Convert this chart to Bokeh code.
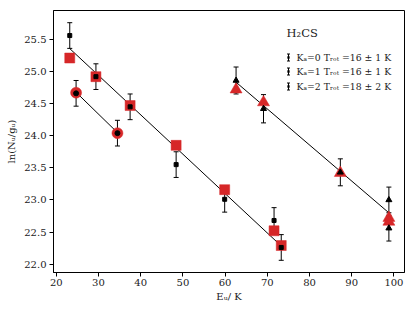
import numpy as np
from bokeh.plotting import figure
from bokeh.models import (ColumnDataSource, Whisker, TeeHead, Label, BoxAnnotation,
                          FixedTicker, PrintfTickFormatter, Range1d)
from bokeh.embed import file_html
from bokeh.resources import INLINE

# ---- data ----
k0_E = [23.2, 29.4, 37.5, 48.4, 59.9, 71.6, 73.3]
k0_obs = [25.56, 24.92, 24.45, 23.55, 23.01, 22.68, 22.26]
k0_err = [0.2, 0.2, 0.2, 0.2, 0.2, 0.2, 0.2]
k0_mod = [25.21, 24.92, 24.47, 23.85, 23.16, 22.52, 22.29]

k1_E = [24.7, 34.5]
k1_obs = [24.66, 24.04]
k1_err = [0.2, 0.2]
k1_mod = [24.67, 24.04]

k2_E = [62.6, 69.1, 87.3, 98.8, 98.8]
k2_obs = [24.86, 24.42, 23.43, 23.00, 22.56]
k2_err = [0.21, 0.22, 0.21, 0.2, 0.2]
k2_mod = [24.72, 24.52, 23.42, 22.72, 22.66]

# rotational-diagram fits: ln(N/g) = a - E/T
fit_a = [26.78, 26.26, 28.35]
fit_T = [16.3, 15.6, 17.8]

legend_labels = ["K\u2090=0 T\u1d63\u2092\u209c =16 \u00b1 1 K",
                 "K\u2090=1 T\u1d63\u2092\u209c =16 \u00b1 1 K",
                 "K\u2090=2 T\u1d63\u2092\u209c =18 \u00b1 2 K"]
title_text = "H\u2082CS"
x_ticks = [20, 30, 40, 50, 60, 70, 80, 90, 100]
y_ticks = [22.0, 22.5, 23.0, 23.5, 24.0, 24.5, 25.0, 25.5]

RED = "#d62728"
FONT = "DejaVu Serif"

p = figure(frame_width=351, frame_height=262, output_backend="svg", toolbar_location=None,
           x_range=Range1d(19.35, 102.5), y_range=Range1d(21.87, 25.95),
           min_border_left=53, min_border_right=11, min_border_top=10, min_border_bottom=39)
p.xgrid.visible = False
p.ygrid.visible = False
p.outline_line_color = "black"
p.outline_line_width = 1
p.background_fill_color = "white"
p.border_fill_color = "white"

groups = [(k0_E, k0_obs, k0_err, k0_mod, "square", 10, 4),
          (k1_E, k1_obs, k1_err, k1_mod, "circle", 11, 5),
          (k2_E, k2_obs, k2_err, k2_mod, "triangle", 12, 6)]

# fit lines
for (E, obs, err, mod, mk, s_red, s_blk), a, T in zip(groups, fit_a, fit_T):
    xs = np.array([min(E), max(E)])
    p.line(xs, a - xs / T, line_color="black", line_width=1)

# error bars
for (E, obs, err, mod, mk, s_red, s_blk) in groups:
    src = ColumnDataSource(dict(x=E, lo=np.array(obs) - np.array(err), hi=np.array(obs) + np.array(err)))
    w = Whisker(source=src, base="x", lower="lo", upper="hi", dimension="height",
                line_color="black", line_width=1, level="underlay",
                upper_head=TeeHead(size=5, line_color="black", line_width=1),
                lower_head=TeeHead(size=5, line_color="black", line_width=1))
    p.add_layout(w)

# model (red) markers
for (E, obs, err, mod, mk, s_red, s_blk) in groups:
    p.scatter(E, mod, marker=mk, size=s_red, fill_color=RED, line_color=RED, line_width=0.5)

# observed (black) markers
for (E, obs, err, mod, mk, s_red, s_blk) in groups:
    p.scatter(E, obs, marker=mk, size=s_blk, fill_color="black", line_color="black")

# axes
for ax in (p.xaxis[0], p.yaxis[0]):
    ax.axis_line_color = "black"
    ax.major_tick_line_color = "black"
    ax.major_tick_out = 4
    ax.major_tick_in = 0
    ax.minor_tick_line_color = None
    ax.major_label_text_font = FONT
    ax.major_label_text_font_size = "10px"
    ax.major_label_text_color = "#222222"
    ax.axis_label_text_font = FONT
    ax.axis_label_text_font_size = "10px"
    ax.axis_label_text_font_style = "normal"
    ax.axis_label_text_color = "#222222"
p.xaxis.ticker = FixedTicker(ticks=x_ticks)
p.yaxis.ticker = FixedTicker(ticks=y_ticks)
p.xaxis.formatter = PrintfTickFormatter(format="%d")
p.yaxis.formatter = PrintfTickFormatter(format="%.1f")
p.xaxis.axis_label = "E\u1d64/ K"
p.yaxis.axis_label = "ln(N\u1d64/g\u1d64)"
p.xaxis.major_label_standoff = 2
p.xaxis.axis_label_standoff = 2
p.yaxis.major_label_standoff = 3
p.yaxis.axis_label_standoff = 4

# legend (drawn in screen units relative to the frame)
p.add_layout(Label(x=233, y=240, x_units="screen", y_units="screen", text=title_text,
                   text_font=FONT, text_font_size="11.5px", text_baseline="middle",
                   text_color="#222222"))
ys = [215, 201, 186]
for lab, yy in zip(legend_labels, ys):
    p.add_layout(Label(x=243, y=yy, x_units="screen", y_units="screen", text=lab,
                       text_font=FONT, text_font_size="9.3px", text_baseline="middle",
                       text_color="#222222"))
    p.add_layout(Whisker(base=235, lower=yy - 3.5, upper=yy + 3.5, base_units="screen",
                         lower_units="screen", upper_units="screen", dimension="height",
                         line_color="black", line_width=1,
                         upper_head=TeeHead(size=3, line_color="black", line_width=1),
                         lower_head=TeeHead(size=3, line_color="black", line_width=1)))
    p.add_layout(BoxAnnotation(left=234, right=236, bottom=yy - 1, top=yy + 1,
                               left_units="screen", right_units="screen",
                               bottom_units="screen", top_units="screen",
                               fill_color="black", fill_alpha=1, line_color="black"))

open("out.html", "w").write(file_html(p, INLINE))
